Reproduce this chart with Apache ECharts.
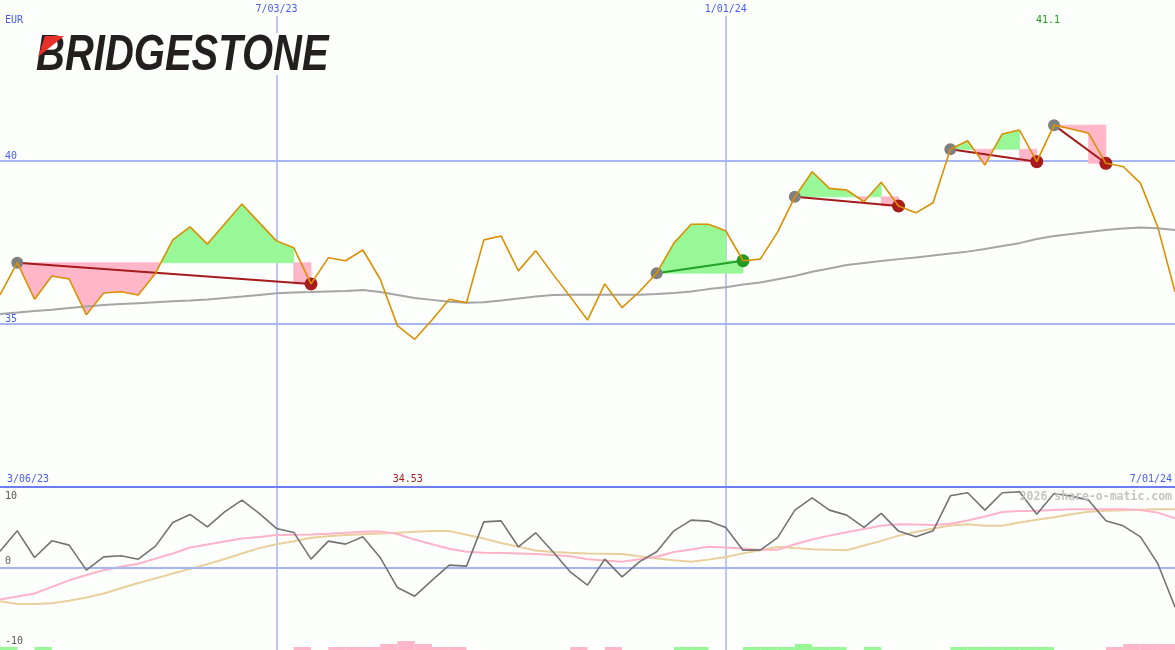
<!DOCTYPE html>
<html><head><meta charset="utf-8">
<script src="https://cdn.jsdelivr.net/npm/echarts@6/dist/echarts.min.js"></script>
<style>html,body{margin:0;padding:0;background:#fcfffc}#c{width:1175px;height:650px}</style>
</head><body><div id="c"></div><script>
const categories = [
'3/13/23','3/20/23','3/27/23','4/03/23','4/10/23','4/17/23','4/24/23','5/01/23','5/08/23','5/15/23',
'5/22/23','5/29/23','6/05/23','6/12/23','6/19/23','6/26/23','7/03/23','7/10/23','7/17/23','7/24/23',
'7/31/23','8/07/23','8/14/23','8/21/23','8/28/23','9/04/23','9/11/23','9/18/23','9/25/23','10/02/23',
'10/09/23','10/16/23','10/23/23','10/30/23','11/06/23','11/13/23','11/20/23','11/27/23','12/04/23','12/11/23',
'12/18/23','12/25/23','1/01/24','1/08/24','1/15/24','1/22/24','1/29/24','2/05/24','2/12/24','2/19/24',
'2/26/24','3/04/24','3/11/24','3/18/24','3/25/24','4/01/24','4/08/24','4/15/24','4/22/24','4/29/24',
'5/06/24','5/13/24','5/20/24','5/27/24','6/03/24','6/10/24','6/17/24','6/24/24','7/01/24'];
const price = [
35.89,36.88,35.76,36.47,36.38,35.28,35.95,35.99,35.89,36.56,
37.58,37.98,37.45,38.07,38.68,38.11,37.55,37.34,36.23,37.03,
36.94,37.27,36.38,34.95,34.53,35.12,35.76,35.65,37.58,37.70,
36.63,37.25,36.53,35.84,35.12,36.23,35.50,35.99,36.56,37.48,
38.06,38.06,37.86,36.94,36.99,37.82,38.90,39.67,39.16,39.11,
38.75,39.35,38.62,38.41,38.72,40.36,40.62,39.88,40.83,40.95,
39.98,41.1,40.98,40.85,39.93,39.83,39.32,37.98,35.99];
const priceMA = [
35.31,35.35,35.40,35.44,35.49,35.54,35.58,35.61,35.64,35.67,
35.70,35.72,35.75,35.80,35.84,35.89,35.94,35.97,35.98,36.00,
36.01,36.04,35.98,35.89,35.80,35.74,35.68,35.65,35.67,35.72,
35.78,35.84,35.89,35.90,35.90,35.90,35.90,35.90,35.92,35.95,
36.00,36.07,36.13,36.21,36.27,36.37,36.47,36.60,36.70,36.81,
36.87,36.93,36.99,37.04,37.10,37.16,37.22,37.30,37.39,37.48,
37.61,37.70,37.76,37.82,37.88,37.93,37.96,37.94,37.88];
const momentum = [
2.54,5.63,1.58,4.11,3.46,-0.35,1.67,1.83,1.32,3.30,
6.91,8.13,6.24,8.52,10.30,8.28,6.0,5.39,1.32,4.06,
3.61,4.72,1.58,-3.0,-4.31,-1.92,0.41,0.26,7.0,7.15,
3.20,5.33,2.44,-0.61,-2.63,1.32,-1.37,0.91,2.44,5.63,
7.26,7.11,6.15,2.69,2.69,4.6,8.78,10.65,8.78,8.02,
6.15,8.28,5.59,4.72,5.63,10.96,11.42,8.78,11.42,11.57,
8.17,11.32,10.91,10.30,7.15,6.39,4.72,0.67,-5.94];
const momentumFast = [
-4.81,-4.35,-3.90,-2.9,-1.9,-1.1,-0.35,0.15,0.62,1.4,
2.19,3.10,3.55,4.0,4.47,4.7,4.98,5.03,5.08,5.2,
5.33,5.5,5.55,5.15,4.3,3.6,2.9,2.45,2.3,2.25,
2.2,2.1,1.95,1.75,1.32,1.1,0.91,1.3,1.7,2.4,
2.8,3.2,3.1,2.95,2.75,2.75,3.6,4.3,4.9,5.4,
5.9,6.4,6.65,6.6,6.5,6.7,7.2,7.8,8.5,8.65,
8.68,8.8,8.9,8.93,8.93,8.9,8.8,8.4,7.52];
const momentumSlow = [
-5.07,-5.5,-5.5,-5.4,-5.0,-4.5,-3.9,-3.1,-2.3,-1.6,
-0.85,-0.15,0.56,1.35,2.19,3.0,3.6,4.06,4.57,4.8,
4.98,5.1,5.24,5.35,5.5,5.59,5.59,5.05,4.45,3.78,
3.2,2.65,2.4,2.28,2.2,2.15,2.09,1.75,1.43,1.15,
0.91,1.25,1.65,2.2,2.69,3.2,3.0,2.82,2.75,2.69,
3.4,4.1,4.9,5.45,6.0,6.45,6.65,6.4,6.4,6.9,
7.3,7.7,8.15,8.55,8.7,8.78,8.85,8.9,8.93];
const barLevels = [1,0,1,0,0,0,0,0,0,0,0,0,0,0,0,0,0,-1,0,-1,-1,-1,-2,-3,-2,-1,-1,0,0,0,0,0,0,-1,0,-1,0,0,0,1,1,0,0,1,1,1,2,1,1,0,1,0,0,0,0,1,1,1,1,1,1,0,0,0,-1,-2,-2,-2];
const trendStarts = [1, 38, 46, 55, 61];
const trendEnds = [18, 43, 52, 60, 64];
const dateTicks = [16, 42];
const priceTicks = [35, 40];
const oscTicks = [10, 0, -10];
const panelLabels = ['3/06/23', '7/01/24'];
const currency = 'EUR';

const BLUE = '#4a5cf0', GRID = '#a7b5f2', GREEN_FILL = '#98f898', PINK_FILL = '#ffb6c9';
const MONO = '"DejaVu Sans Mono", monospace';

const chart = echarts.init(document.getElementById('c'), null, {renderer: 'canvas'});

function trendRender(params, api) {
  const s = trendStarts[params.dataIndex], e = trendEnds[params.dataIndex];
  const b = price[s];
  const kids = [];
  const poly = (pts, up) => {
    const c = up ? GREEN_FILL : PINK_FILL;
    return {type: 'polygon', shape: {points: pts}, style: {fill: c, stroke: c, lineWidth: 0.8}};
  };
  for (let k = s; k < e - 1; k++) {
    const d0 = price[k] - b, d1 = price[k + 1] - b;
    const a0 = api.coord([k, b]), a1 = api.coord([k + 1, b]);
    const p0 = api.coord([k, price[k]]), p1 = api.coord([k + 1, price[k + 1]]);
    if (d0 * d1 < 0) {
      const t = d0 / (d0 - d1);
      const xc = [p0[0] + t * (p1[0] - p0[0]), a0[1]];
      kids.push(poly([a0, p0, xc], d0 > 0));
      kids.push(poly([xc, p1, a1], d1 > 0));
    } else {
      kids.push(poly([a0, p0, p1, a1], d0 + d1 > 0));
    }
  }
  const up = price[e] > b;
  const r0 = api.coord([e - 1, b]), r1 = api.coord([e, b]);
  const q0 = api.coord([e - 1, price[e]]), q1 = api.coord([e, price[e]]);
  kids.push(poly([r0, q0, q1, r1], up));
  const ps = api.coord([s, b]), pe = api.coord([e, price[e]]);
  const lineColor = up ? '#22a02a' : '#a31b1b';
  kids.push({type: 'line', shape: {x1: ps[0], y1: ps[1], x2: pe[0], y2: pe[1]}, style: {stroke: lineColor, lineWidth: 2}});
  kids.push({type: 'circle', shape: {cx: ps[0], cy: ps[1], r: 6}, style: {fill: '#808080'}});
  kids.push({type: 'circle', shape: {cx: pe[0], cy: pe[1], r: 6.5}, style: {fill: up ? '#229a22' : '#a81c1c'}});
  return {type: 'group', children: kids};
}

const tickFn = (i) => dateTicks.includes(i);

chart.setOption({
  animation: false,
  backgroundColor: '#fcfffc',
  grid: [
    {left: 0, right: 0, top: 16, height: 471},
    {left: 0, right: 0, top: 487, height: 163},
    {left: 0, right: 0, top: 641, height: 9}
  ],
  xAxis: [
    {type: 'category', gridIndex: 0, data: categories, boundaryGap: false, position: 'top',
     axisLine: {show: false}, axisTick: {show: false}, axisLabel: {show: false},
     splitLine: {show: true, interval: tickFn, lineStyle: {color: GRID, width: 1.5}}},
    {type: 'category', gridIndex: 1, data: categories, boundaryGap: false,
     axisLine: {show: false}, axisTick: {show: false}, axisLabel: {show: false},
     splitLine: {show: true, interval: tickFn, lineStyle: {color: GRID, width: 1.5}}},
    {type: 'category', gridIndex: 2, data: categories.slice(0, 68), boundaryGap: true, show: false}
  ],
  yAxis: [
    {type: 'value', gridIndex: 0, min: 30, max: 30 + 471 / 32.6, interval: 5,
     axisLine: {show: false}, axisTick: {show: false},
     axisLabel: {inside: true, margin: 5, color: BLUE, fontSize: 10, fontFamily: MONO, verticalAlign: 'bottom',
       showMaxLabel: false, formatter: (v) => priceTicks.includes(v) ? String(v) : ''},
     splitLine: {show: true, showMinLine: false, showMaxLine: false, lineStyle: {color: GRID, width: 2}}},
    {type: 'value', gridIndex: 1, min: -12.5, max: 12.3,
     axisLine: {show: false}, axisTick: {show: false}, axisLabel: {show: false}, splitLine: {show: false}},
    {type: 'value', gridIndex: 2, min: 0, max: 3, show: false}
  ],
  series: [
    {type: 'custom', xAxisIndex: 0, yAxisIndex: 0, z: 2, clip: false,
     data: trendStarts.map((s) => [s, price[s]]), renderItem: trendRender},
    {type: 'line', xAxisIndex: 0, yAxisIndex: 0, z: 3, data: priceMA, symbol: 'none',
     lineStyle: {color: '#a5a5a5', width: 2}},
    {type: 'line', xAxisIndex: 0, yAxisIndex: 0, z: 5, data: price, symbol: 'none',
     lineStyle: {color: '#da9000', width: 1.6}},
    {type: 'line', xAxisIndex: 1, yAxisIndex: 1, z: 3, data: momentumSlow, symbol: 'none',
     lineStyle: {color: '#e8cf9c', width: 2}},
    {type: 'line', xAxisIndex: 1, yAxisIndex: 1, z: 4, data: momentumFast, symbol: 'none',
     lineStyle: {color: '#ffb3c8', width: 2}},
    {type: 'line', xAxisIndex: 1, yAxisIndex: 1, z: 5, data: momentum, symbol: 'none',
     lineStyle: {color: '#737373', width: 1.6},
     markLine: {silent: true, symbol: 'none', label: {show: false}, data: [{yAxis: 0}],
       lineStyle: {color: GRID, width: 2, type: 'solid'}}},
    {type: 'bar', xAxisIndex: 2, yAxisIndex: 2, z: 2, barWidth: '100%', barCategoryGap: '0%',
     data: barLevels.map((v) => ({value: Math.abs(v), itemStyle: {color: v > 0 ? GREEN_FILL : PINK_FILL}}))}
  ]
});

const px = (i) => chart.convertToPixel({xAxisIndex: 0}, i);
const oy = (v) => chart.convertToPixel({yAxisIndex: 1}, v);
let maxI = 0, minI = 0;
price.forEach((v, i) => { if (v > price[maxI]) maxI = i; if (v < price[minI]) minI = i; });
const txt = (text, x, y, color, align, valign, font) => ({
  type: 'text', x: x, y: y, z: 100,
  style: {text: text, fill: color, font: font || ('10px ' + MONO), align: align, textAlign: align,
    verticalAlign: valign, textVerticalAlign: valign}
});
const graphics = [
  {type: 'rect', x: 30, y: 33, z: 50, shape: {width: 312, height: 42}, style: {fill: '#fcfffc'}},
  {type: 'text', x: 36, y: 56, z: 51, scaleX: 0.8,
   style: {text: 'BRIDGESTONE', fill: '#231f20', font: 'italic bold 50px "Liberation Sans", Arial, sans-serif',
     align: 'left', textAlign: 'left', verticalAlign: 'middle', textVerticalAlign: 'middle'}},
  {type: 'polygon', z: 52, shape: {points: [[45, 36], [64, 36], [38, 57]]}, style: {fill: '#e8302a'}},
  txt(currency, 5, 20, BLUE, 'left', 'middle'),
  txt(String(price[maxI]), px(maxI) - 6, 20, '#229a22', 'center', 'middle'),
  txt(String(price[minI]), px(minI) - 7, 479, '#a81c1c', 'center', 'middle'),
  txt(panelLabels[0], 7, 479, BLUE, 'left', 'middle'),
  txt(panelLabels[1], 1172, 479, BLUE, 'right', 'middle'),
  {type: 'line', z: 60, shape: {x1: 0, y1: 487, x2: 1175, y2: 487}, style: {stroke: '#6d7cf0', lineWidth: 2}},
  txt('2026 share-o-matic.com', 1172, 497, '#c4c4c4', 'right', 'middle', 'bold 11.5px ' + MONO)
];
dateTicks.forEach((i) => graphics.push(txt(categories[i], px(i), 9, BLUE, 'center', 'middle')));
oscTicks.forEach((v) => {
  if (v >= 0) graphics.push(txt(String(v), 5, oy(v) - 1, '#585858', 'left', 'bottom'));
  else graphics.push(txt(String(v), 5, oy(v) + 3, '#585858', 'left', 'top'));
});
chart.setOption({graphic: graphics});
</script></body></html>
